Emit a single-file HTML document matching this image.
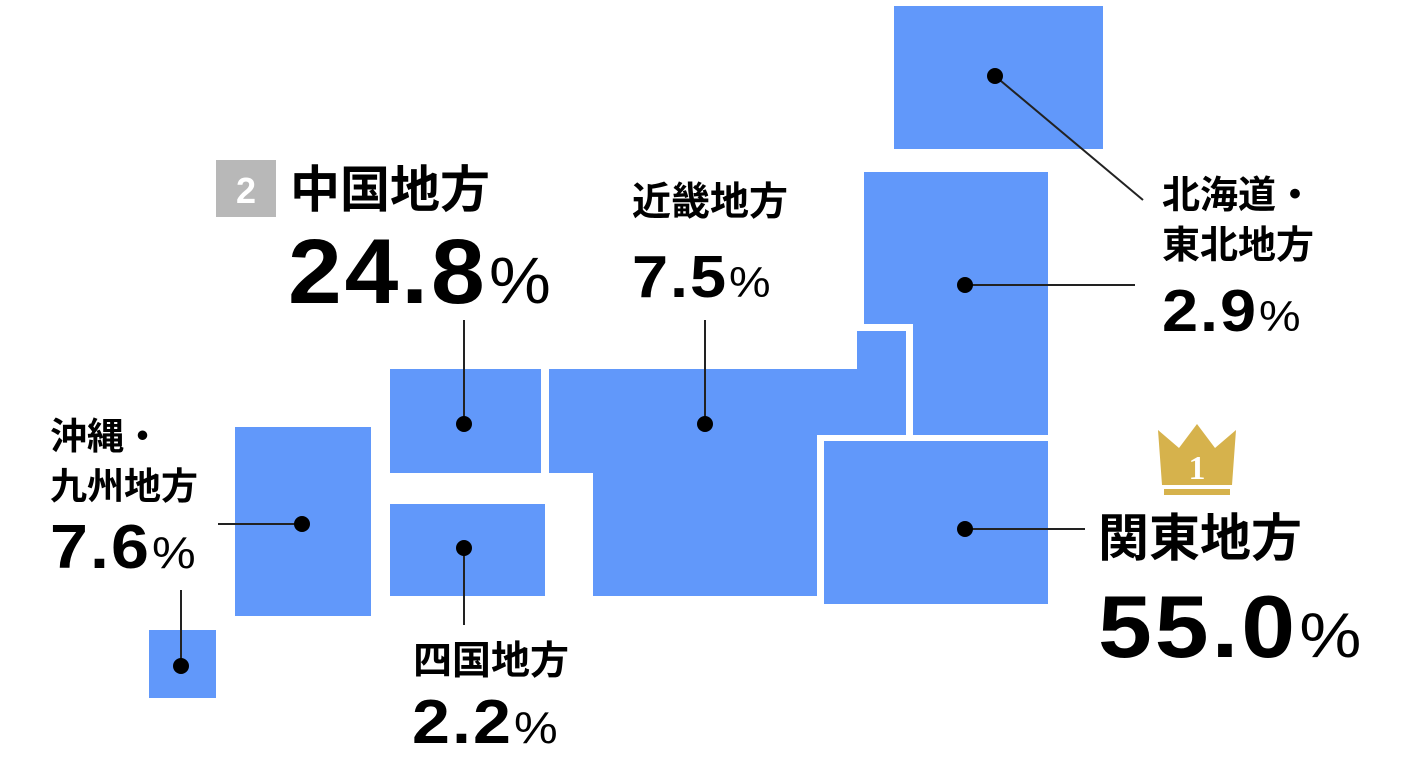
<!DOCTYPE html>
<html><head><meta charset="utf-8"><style>
html,body{margin:0;padding:0;background:#fff;width:1412px;height:760px;overflow:hidden;position:relative}
.t{position:absolute;font-family:"Liberation Sans","Noto Sans CJK JP",sans-serif;font-weight:bold;color:#000;line-height:1;white-space:nowrap}
.n{position:absolute;font-family:"Liberation Sans",sans-serif;font-weight:bold;color:#000;line-height:1;white-space:nowrap;letter-spacing:0.03em;transform:scaleX(1.1);transform-origin:0 0}
.n span{font-weight:normal;font-size:0.72em;letter-spacing:0;margin-left:0.02em}
</style></head><body>
<svg width="1412" height="760" style="position:absolute;left:0;top:0">
<g fill="#6198fa">
<rect x="894" y="6" width="209" height="143"/>
<polygon points="864,172 1048,172 1048,435 913,435 913,324 864,324"/>
<rect x="824" y="441" width="224" height="163"/>
<polygon points="549,369 857,369 857,331 906,331 906,435 817,435 817,596 593,596 593,473 549,473"/>
<rect x="390" y="369" width="151" height="104"/>
<rect x="390" y="504" width="155" height="92"/>
<rect x="235" y="427" width="136" height="189"/>
<rect x="149" y="630" width="67" height="68"/>
</g>
<g stroke="#222" stroke-width="2">
<line x1="995" y1="76" x2="1143" y2="200"/>
<line x1="965" y1="285" x2="1135" y2="285"/>
<line x1="965" y1="529" x2="1085" y2="529"/>
<line x1="705" y1="424" x2="705" y2="320"/>
<line x1="464" y1="424" x2="464" y2="320"/>
<line x1="464" y1="548" x2="464" y2="625"/>
<line x1="302" y1="524" x2="218" y2="524"/>
<line x1="181" y1="666" x2="181" y2="590"/>
</g>
<g fill="#000">
<circle cx="995" cy="76" r="8"/><circle cx="965" cy="285" r="8"/><circle cx="965" cy="529" r="8"/>
<circle cx="705" cy="424" r="8"/><circle cx="464" cy="424" r="8"/><circle cx="464" cy="548" r="8"/>
<circle cx="302" cy="524" r="8"/><circle cx="181" cy="666" r="8"/>
</g>
<rect x="216" y="160" width="60" height="57" fill="#b8b8b8"/>
<text x="246" y="203" text-anchor="middle" font-family="Liberation Sans" font-weight="bold" font-size="36" fill="#fff">2</text>
<polygon points="1158,430 1179,448 1197,424 1215,448 1236,430 1232,485 1162,485" fill="#d6b24c"/>
<rect x="1164" y="489" width="66" height="6" fill="#d6b24c"/>
<text x="1197" y="479" text-anchor="middle" font-family="Liberation Serif" font-weight="bold" font-size="34" fill="#fff">1</text>
</svg>
<div class="t" style="left:290px;top:165px;font-size:50px">中国地方</div>
<div class="n" style="left:288px;top:226px;font-size:92px;transform:scaleX(1.05)">24.8<span>%</span></div>
<div class="t" style="left:632px;top:183px;font-size:39px">近畿地方</div>
<div class="n" style="left:632px;top:248px;font-size:59px">7.5<span>%</span></div>
<div class="t" style="left:1162px;top:177px;font-size:38px">北海道・</div>
<div class="t" style="left:1162px;top:227px;font-size:38px">東北地方</div>
<div class="n" style="left:1162px;top:282px;font-size:59px">2.9<span>%</span></div>
<div class="t" style="left:1098px;top:513px;font-size:51px">関東地方</div>
<div class="n" style="left:1098px;top:583px;font-size:88px">55.0<span>%</span></div>
<div class="t" style="left:50px;top:418px;font-size:37px">沖縄・</div>
<div class="t" style="left:50px;top:468px;font-size:37px">九州地方</div>
<div class="n" style="left:50px;top:517px;font-size:62px">7.6<span>%</span></div>
<div class="t" style="left:413px;top:642px;font-size:39px">四国地方</div>
<div class="n" style="left:412px;top:692px;font-size:62px">2.2<span>%</span></div>
</body></html>
